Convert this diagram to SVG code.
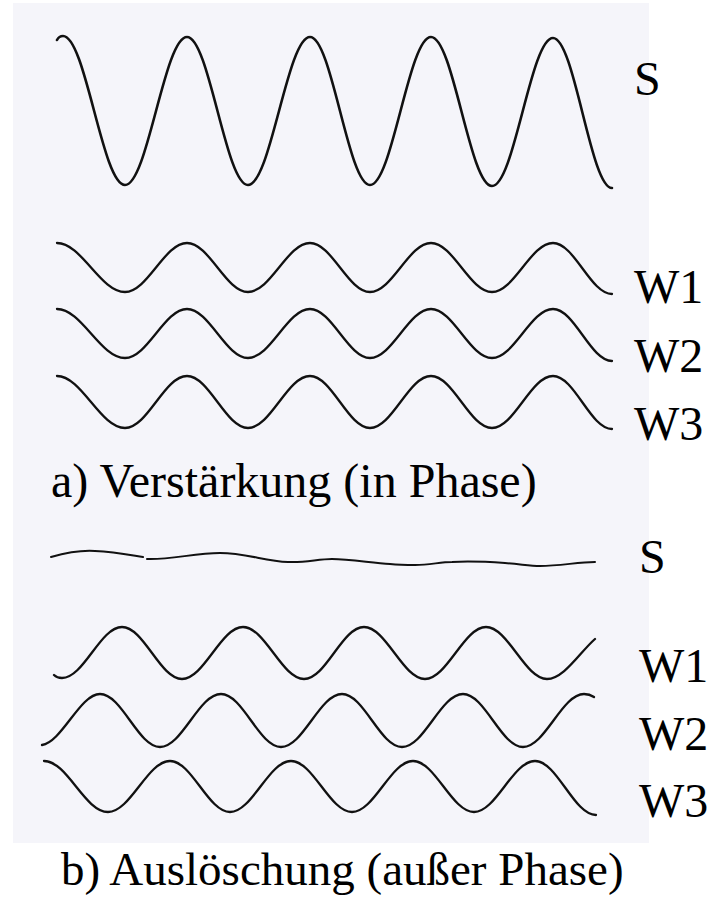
<svg xmlns="http://www.w3.org/2000/svg" width="714" height="899" viewBox="0 0 714 899">
<style>
.bg{fill:#f5f5fa}
.w{fill:none;stroke:#111;stroke-width:2.3;stroke-linecap:round;stroke-linejoin:round}
.big{stroke-width:2.6}
.thin{stroke-width:2}
text{font-family:"Liberation Serif","Times New Roman",serif;font-size:48px;fill:#000}
</style>
<rect class="bg" x="13" y="3" width="636" height="840"/>
<g id="part-a">
  <g id="a-S">
    <path class="w big" d="M57,40 C58,38 60,36 63,36 C85.6,36 102.4,185 125,185 C147.6,185 164.4,37 187,37 C209.2,37 225.8,185 248,185 C270.6,185 287.4,37 310,37 C331.8,37 348.2,185 370,185 C392.2,185 408.8,37 431,37 C453.2,37 469.8,186 492,186 C514.2,186 530.8,38 553,38 C574.5,38 590.5,188 612,188"/>
    <text x="634" y="95">S</text>
  </g>
  <g id="a-W1">
    <path class="w" d="M57,243 C81.7,243 100.3,292 125,292 C147.6,292 164.4,243 187,243 C209.2,243 225.8,292 248,292 C270.6,292 287.4,243 310,243 C331.8,243 348.2,292 370,292 C392.2,292 408.8,243 431,243 C453.2,243 469.8,292 492,292 C514.2,292 530.8,243 553,243 C574.5,243 590.5,294 612,294"/>
    <text x="634" y="303">W1</text>
  </g>
  <g id="a-W2">
    <path class="w" d="M57,309 C81.7,309 100.3,358 125,358 C147.6,358 164.4,309 187,309 C209.2,309 225.8,358 248,358 C270.6,358 287.4,309 310,309 C331.8,309 348.2,358 370,358 C392.2,358 408.8,309 431,309 C453.2,309 469.8,358 492,358 C514.2,358 530.8,309 553,309 C574.5,309 590.5,361 612,361"/>
    <text x="634" y="372">W2</text>
  </g>
  <g id="a-W3">
    <path class="w" d="M57,376 C81.7,376 100.3,428 125,428 C147.6,428 164.4,376 187,376 C209.2,376 225.8,428 248,428 C270.6,428 287.4,376 310,376 C331.8,376 348.2,428 370,428 C392.2,428 408.8,376 431,376 C453.2,376 469.8,428 492,428 C514.2,428 530.8,376 553,376 C574.5,376 590.5,429 612,429"/>
    <text x="634" y="440">W3</text>
  </g>
  <text id="caption-a" x="51" y="497">a) Verstärkung (in Phase)</text>
</g>
<g id="part-b">
  <g id="b-S">
    <path class="w thin" d="M51,557 C65,553 80,550 95,551 C115,552 130,555 143,557 M147,559 C170,560 195,553 220,553 C245,553 265,561 288,562 C305,563 318,559 332,559 C350,559 372,563 390,564 C400,565 408,565 415,565 C430,565 440,562 452,562 C470,561 490,562 505,563 C520,564 530,566 540,566 C560,566 578,562 595,562"/>
    <text x="639" y="573">S</text>
  </g>
  <g id="b-W1">
    <path class="w" d="M54,675 C56,677 58,678 62,678 C83.8,678 100.2,627 122,627 C143.8,627 160.2,679 182,679 C204,679 221,627 243,627 C265,627 282,679 304,679 C326,679 342,627 364,627 C386,627 403,679 425,679 C447,679 464,627 486,627 C508,627 525,679 547,679 C564,679 580,652 595,639"/>
    <text x="639" y="682">W1</text>
  </g>
  <g id="b-W2">
    <path class="w" d="M42,745 C62,742 80,694 100,694 C121.8,694 138.2,747 160,747 C182.2,747 198.8,694 221,694 C242.8,694 259.2,747 281,747 C303.2,747 319.8,694 342,694 C363.8,694 380.2,747 402,747 C424.2,747 440.8,694 463,694 C484.8,694 501.2,747 523,747 C545,747 562,694 584,694 C588,694 591,695 594,697"/>
    <text x="639" y="750">W2</text>
  </g>
  <g id="b-W3">
    <path class="w" d="M44,761 C67.3,761 84.7,812 108,812 C130.6,812 147.4,761 170,761 C191.8,761 208.2,812 230,812 C252.2,812 268.8,761 291,761 C313.2,761 329.8,812 352,812 C374.2,812 390.8,761 413,761 C435.2,761 451.8,812 474,812 C496.2,812 512.8,761 535,761 C557.2,761 573.8,815 596,815"/>
    <text x="639" y="817">W3</text>
  </g>
  <text id="caption-b" x="61" y="885" style="font-size:47px">b) Auslöschung (außer Phase)</text>
</g>
</svg>
